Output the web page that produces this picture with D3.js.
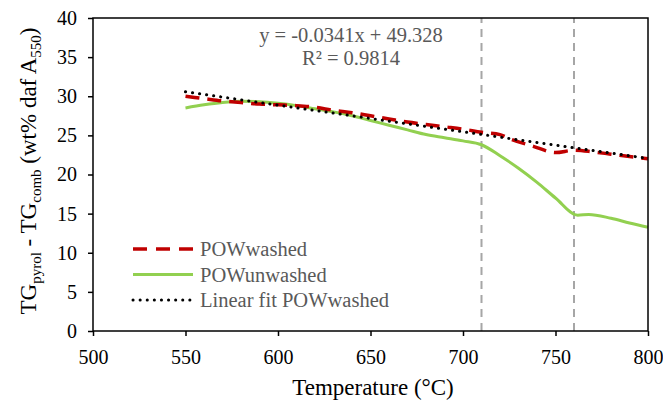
<!DOCTYPE html>
<html lang="en">
<head>
  <meta charset="UTF-8">
  <title>TG pyrol - TG comb</title>
  <script src="https://cdn.jsdelivr.net/npm/d3@7"></script>
  <style>
    body {
      margin: 0;
      background: #fff;
      font-family: "Liberation Serif", "Times New Roman", serif;
    }
    svg {
      display: block;
    }
  </style>
</head>
<body>
  <svg></svg>
  <script>
    // data
    const washedT = [550, 560, 570, 580, 590, 600, 610, 620, 630, 640, 650, 660, 670, 680, 690, 700, 710, 720, 725, 738, 750, 760, 770, 780, 790, 800];
    const washedV = [30.0, 29.7, 29.4, 29.2, 29.0, 28.9, 28.8, 28.6, 28.2, 27.9, 27.5, 27.1, 26.7, 26.4, 26.1, 25.8, 25.4, 25.1, 24.6, 23.6, 22.8, 23.1, 22.9, 22.6, 22.3, 22.0];

    const unwashedT = [550, 560, 570, 580, 590, 600, 610, 620, 630, 640, 650, 660, 670, 680, 690, 700, 710, 720, 730, 740, 750, 762, 768, 780, 790, 800];
    const unwashedV = [28.5, 28.9, 29.2, 29.35, 29.3, 29.1, 28.8, 28.4, 28.0, 27.5, 26.9, 26.3, 25.7, 25.1, 24.7, 24.3, 23.8, 22.4, 20.8, 19.0, 17.0, 14.8, 14.9, 14.4, 13.8, 13.25];

    const fitT = [550, 800];
    const fitV = [30.57, 22.05];

    const markerT = [710, 760];

    const xTicks = [500, 550, 600, 650, 700, 750, 800];
    const yTicks = [0, 5, 10, 15, 20, 25, 30, 35, 40];

    const equationLines = ['y = -0.0341x + 49.328', 'R² = 0.9814'];
    const legendLabels = ['POWwashed', 'POWunwashed', 'Linear fit POWwashed'];

    const width = 663;
    const height = 401;
    const margin = { top: 18, right: 15, bottom: 70, left: 93 };

    const svg = d3.select('svg')
      .attr('width', width)
      .attr('height', height);

    const x = d3.scaleLinear().domain([500, 800]).range([margin.left, width - margin.right]);
    const y = d3.scaleLinear().domain([0, 40]).range([height - margin.bottom, margin.top]);

    // vertical markers
    svg.append('g')
      .selectAll('line')
      .data(markerT)
      .join('line')
      .attr('x1', d => x(d)).attr('x2', d => x(d))
      .attr('y1', y(0)).attr('y2', y(40))
      .attr('stroke', '#a6a6a6')
      .attr('stroke-width', 2)
      .attr('stroke-dasharray', '8,6');

    const line = d3.line()
      .x(d => x(d[0]))
      .y(d => y(d[1]))
      .curve(d3.curveMonotoneX);

    const washed = { t: washedT, v: washedV, color: '#c00000', width: 3.5, dash: '14,8', cap: 'butt' };
    const unwashed = { t: unwashedT, v: unwashedV, color: '#92d050', width: 3, dash: null, cap: 'butt' };
    const fit = { t: fitT, v: fitV, color: '#000', width: 3, dash: '0.1,7', cap: 'round' };

    svg.append('g')
      .selectAll('path')
      .data([unwashed, washed, fit])
      .join('path')
      .attr('d', d => line(d.t.map((t, i) => [t, d.v[i]])))
      .attr('fill', 'none')
      .attr('stroke', d => d.color)
      .attr('stroke-width', d => d.width)
      .attr('stroke-dasharray', d => d.dash)
      .attr('stroke-linecap', d => d.cap);

    // frame
    svg.append('rect')
      .attr('x', x(500)).attr('y', y(40))
      .attr('width', x(800) - x(500))
      .attr('height', y(0) - y(40))
      .attr('fill', 'none')
      .attr('stroke', '#000')
      .attr('stroke-width', 1.5);

    const xAxis = svg.append('g')
      .attr('transform', `translate(0,${y(0)})`)
      .call(d3.axisBottom(x).tickValues(xTicks).tickSize(5).tickPadding(14).tickSizeOuter(0));

    const yAxis = svg.append('g')
      .attr('transform', `translate(${x(500)},0)`)
      .call(d3.axisLeft(y).tickValues(yTicks).tickSize(5).tickPadding(11).tickSizeOuter(0));

    [xAxis, yAxis].forEach(g => {
      g.select('.domain').remove();
      g.selectAll('line').attr('stroke', '#000').attr('stroke-width', 1.5);
      g.selectAll('text')
        .attr('fill', '#000')
        .style('font-family', '"Liberation Serif", "Times New Roman", serif')
        .style('font-size', '20px');
    });

    // axis titles
    svg.append('text')
      .attr('x', 373)
      .attr('y', 395)
      .attr('text-anchor', 'middle')
      .style('font-size', '23px')
      .text('Temperature (°C)');

    const yTitle = svg.append('text')
      .attr('transform', 'translate(36,171) rotate(-90)')
      .attr('text-anchor', 'middle')
      .style('font-size', '23px');
    const parts = [
      ['TG', false], ['pyrol', true], [' - TG', false], ['comb', true],
      [' (wt% daf A', false], ['550', true], [')', false]
    ];
    let shifted = false;
    parts.forEach(([s, sub]) => {
      const ts = yTitle.append('tspan').text(s);
      if (sub) {
        ts.style('font-size', '15px').attr('dy', shifted ? 0 : 5);
        shifted = true;
      } else {
        ts.attr('dy', shifted ? -5 : 0);
        shifted = false;
      }
    });

    // trendline equation
    svg.append('g')
      .selectAll('text')
      .data(equationLines)
      .join('text')
      .attr('x', 351)
      .attr('y', (d, i) => 42 + i * 23)
      .attr('text-anchor', 'middle')
      .attr('fill', '#595959')
      .style('font-size', '20.5px')
      .text(d => d);

    // legend
    const legendRows = svg.append('g')
      .selectAll('g')
      .data([washed, unwashed, fit])
      .join('g')
      .attr('transform', (d, i) => `translate(133,${249 + i * 25.5})`);

    legendRows.append('line')
      .attr('x1', 0).attr('x2', 60)
      .attr('stroke', d => d.color)
      .attr('stroke-width', d => d.width)
      .attr('stroke-dasharray', d => d === washed ? '14,9' : d.dash)
      .attr('stroke-linecap', d => d.cap);

    legendRows.append('text')
      .attr('x', 67)
      .attr('dy', '0.35em')
      .attr('fill', '#595959')
      .style('font-size', '20.5px')
      .text((d, i) => legendLabels[i]);
  </script>
</body>
</html>
